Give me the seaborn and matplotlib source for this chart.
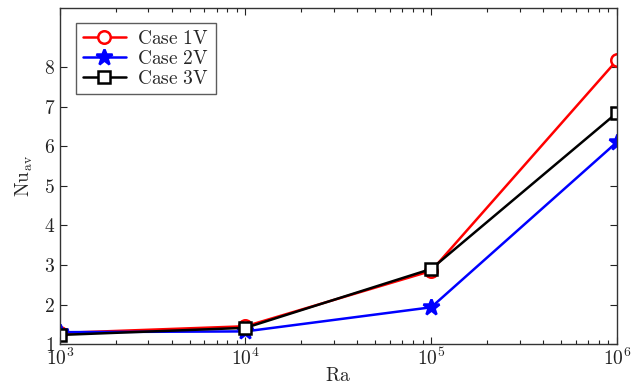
import matplotlib
matplotlib.use("Agg")
import matplotlib.pyplot as plt
import seaborn as sns
import pandas as pd
from matplotlib.ticker import LogLocator, NullFormatter

ra = [1e3, 1e4, 1e5, 1e6]
case1v = [1.28, 1.45, 2.85, 8.18]
case2v = [1.30, 1.32, 1.93, 6.11]
case3v = [1.23, 1.41, 2.90, 6.85]
labels = ["Case 1V", "Case 2V", "Case 3V"]

sns.set_style("ticks")
plt.rcParams["mathtext.fontset"] = "cm"
plt.rcParams["font.family"] = ["DejaVu Serif"]

df = pd.DataFrame({
    "Ra": ra * 3,
    "Nu": case1v + case2v + case3v,
    "case": [labels[0]] * 4 + [labels[1]] * 4 + [labels[2]] * 4,
})

fig = plt.figure(figsize=(6.36, 3.87), dpi=100)
ax = fig.add_axes([0.094, 0.111, 0.876, 0.868])

styles = {
    labels[0]: dict(color="#ff0000", marker="o", mfc="white", ms=9),
    labels[1]: dict(color="#0000ff", marker="*", mfc="#0000ff", ms=12),
    labels[2]: dict(color="#000000", marker="s", mfc="white", ms=8),
}
for lab in labels:
    s = styles[lab]
    sub = df[df["case"] == lab]
    sns.lineplot(data=sub, x="Ra", y="Nu", ax=ax, color=s["color"], marker=s["marker"],
                 markersize=s["ms"], markerfacecolor=s["mfc"], markeredgecolor=s["color"],
                 markeredgewidth=1.8, linewidth=1.8, label=r"$\mathrm{" + lab.replace(" ", r"\ ") + "}$")

ax.set_xscale("log")
ax.set_xlim(1e3, 1e6)
ax.set_ylim(1, 9.5)
ax.set_yticks(range(1, 9))
ax.set_yticklabels([rf"${i}$" for i in range(1, 9)])
ax.set_xticks([1e3, 1e4, 1e5, 1e6])
ax.set_xticklabels([r"$10^{3}$", r"$10^{4}$", r"$10^{5}$", r"$10^{6}$"])
ax.xaxis.set_minor_locator(LogLocator(base=10, subs=range(2, 10)))
ax.xaxis.set_minor_formatter(NullFormatter())
ax.tick_params(which="both", direction="in", top=True, right=True, labelsize=14, colors="#222222")
ax.tick_params(which="major", length=5, width=0.8)
ax.tick_params(which="minor", length=3, width=0.8)
ax.tick_params(axis="x", pad=3)
for sp in ax.spines.values():
    sp.set_color("#333333")
    sp.set_linewidth(1.0)
ax.set_xlabel(r"$\mathrm{Ra}$", fontsize=14, labelpad=-2)
ax.set_ylabel(r"$\mathrm{Nu_{av}}$", fontsize=14, labelpad=6)

leg = ax.legend(loc="upper left", fontsize=14, frameon=True, fancybox=False,
                edgecolor="#333333", borderpad=0.35, handlelength=2.2, labelspacing=0.1,
                handletextpad=0.6, bbox_to_anchor=(0.012, 0.985))
leg.get_frame().set_linewidth(1.0)

fig.savefig("out.png", dpi=100)
